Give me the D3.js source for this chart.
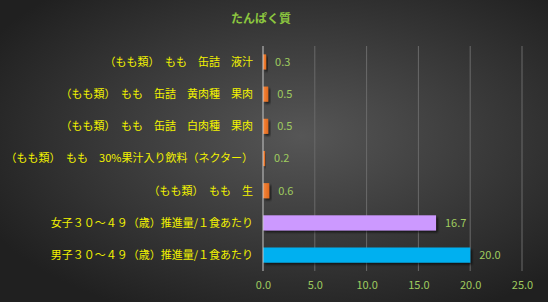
<!DOCTYPE html>
<html>
<head>
<meta charset="utf-8">
<script src="https://cdn.jsdelivr.net/npm/d3@7"></script>
<style>
  body { margin: 0; background: #2a2a2a; }
  svg { display: block; font-family: "Noto Sans CJK JP", sans-serif; }
</style>
</head>
<body>
<div id="plot"></div>
<script>
// chart data
const title = "たんぱく質";
const categories = [
    "（もも類）　もも　缶詰　液汁",
    "（もも類）　もも　缶詰　黄肉種　果肉",
    "（もも類）　もも　缶詰　白肉種　果肉",
    "（もも類）　もも　30%果汁入り飲料（ネクター）",
    "（もも類）　もも　生",
    "女子３０～４９（歳）推進量/１食あたり",
    "男子３０～４９（歳）推進量/１食あたり"
];
const values = [0.3, 0.5, 0.5, 0.2, 0.6, 16.7, 20.0];
const barColors = ["#ed7d31", "#ed7d31", "#ed7d31", "#ed7d31", "#ed7d31", "#cc99ff", "#00b0f0"];
const xTicks = [0, 5, 10, 15, 20, 25];

const width = 548;
const height = 302;
const margin = { top: 46, right: 26, bottom: 31, left: 263 };

const svg = d3.select("#plot")
    .append("svg")
    .attr("width", width)
    .attr("height", height);

const defs = svg.append("defs");

// background radial gradient
const bg = defs.append("radialGradient")
    .attr("id", "bg")
    .attr("cx", "55%").attr("cy", "45%").attr("r", "65%");
bg.append("stop").attr("offset", "0%").attr("stop-color", "#565656");
bg.append("stop").attr("offset", "100%").attr("stop-color", "#202020");

const orange = defs.append("linearGradient")
    .attr("id", "orangeGrad")
    .attr("x1", 0).attr("x2", 1).attr("y1", 0).attr("y2", 0);
orange.append("stop").attr("offset", "0%").attr("stop-color", "#f5883f");
orange.append("stop").attr("offset", "100%").attr("stop-color", "#e2691c");

const shadow = defs.append("filter")
    .attr("id", "shadow")
    .attr("x", "-20%").attr("y", "-20%").attr("width", "160%").attr("height", "160%");
shadow.append("feDropShadow")
    .attr("dx", 2).attr("dy", 2).attr("stdDeviation", 1.2)
    .attr("flood-color", "#000").attr("flood-opacity", 0.6);

svg.append("rect")
    .attr("width", width)
    .attr("height", height)
    .attr("fill", "url(#bg)");

// scales
const xScale = d3.scaleLinear()
    .domain([0, 25])
    .range([margin.left, width - margin.right]);

const yScale = d3.scaleBand()
    .domain(categories)
    .range([margin.top, height - margin.bottom])
    .paddingInner(0.53)
    .paddingOuter(0.26);

// gridlines
svg.append("g")
    .selectAll("line")
    .data(xTicks.slice(1))
    .join("line")
    .attr("x1", (d) => xScale(d))
    .attr("x2", (d) => xScale(d))
    .attr("y1", margin.top)
    .attr("y2", height - margin.bottom)
    .attr("stroke", "#6a6a6a")
    .attr("stroke-width", 1);

// x axis
const xAxis = d3.axisBottom(xScale)
    .tickValues(xTicks)
    .tickFormat(d3.format(".1f"))
    .tickSize(0)
    .tickPadding(10);

svg.append("g")
    .attr("transform", `translate(0,${height - margin.bottom})`)
    .call(xAxis)
    .call((g) => g.select(".domain").remove())
    .selectAll("text")
    .attr("fill", "#9fcb5f")
    .style("font-size", "11px")
    .style("font-family", "\"Noto Sans CJK JP\", sans-serif");

// bars
svg.append("g")
    .selectAll("rect")
    .data(values)
    .join("rect")
    .attr("x", xScale(0))
    .attr("y", (d, i) => yScale(categories[i]))
    .attr("width", (d) => xScale(d) - xScale(0))
    .attr("height", yScale.bandwidth())
    .attr("fill", (d, i) => i < 5 ? "url(#orangeGrad)" : barColors[i])
    .attr("filter", "url(#shadow)");

// zero axis line
svg.append("line")
    .attr("x1", xScale(0))
    .attr("x2", xScale(0))
    .attr("y1", margin.top)
    .attr("y2", height - margin.bottom)
    .attr("stroke", "#c8c8c8")
    .attr("stroke-width", 1);

// value labels
svg.append("g")
    .selectAll("text")
    .data(values)
    .join("text")
    .attr("x", (d) => xScale(d) + 9)
    .attr("y", (d, i) => yScale(categories[i]) + yScale.bandwidth() / 2)
    .attr("dy", "0.35em")
    .attr("fill", "#9fcb5f")
    .style("font-size", "11px")
    .text((d) => d.toFixed(1));

// category labels
svg.append("g")
    .selectAll("text")
    .data(categories)
    .join("text")
    .attr("x", margin.left - 10)
    .attr("y", (d) => yScale(d) + yScale.bandwidth() / 2)
    .attr("dy", "0.35em")
    .attr("text-anchor", "end")
    .attr("fill", "#f2f200")
    .style("font-size", "11px")
    .text((d) => d);

// title
svg.append("text")
    .attr("x", 261)
    .attr("y", 23)
    .attr("text-anchor", "middle")
    .attr("fill", "#8cc63f")
    .style("font-size", "12px")
    .style("font-weight", "bold")
    .text(title);
</script>
</body>
</html>
